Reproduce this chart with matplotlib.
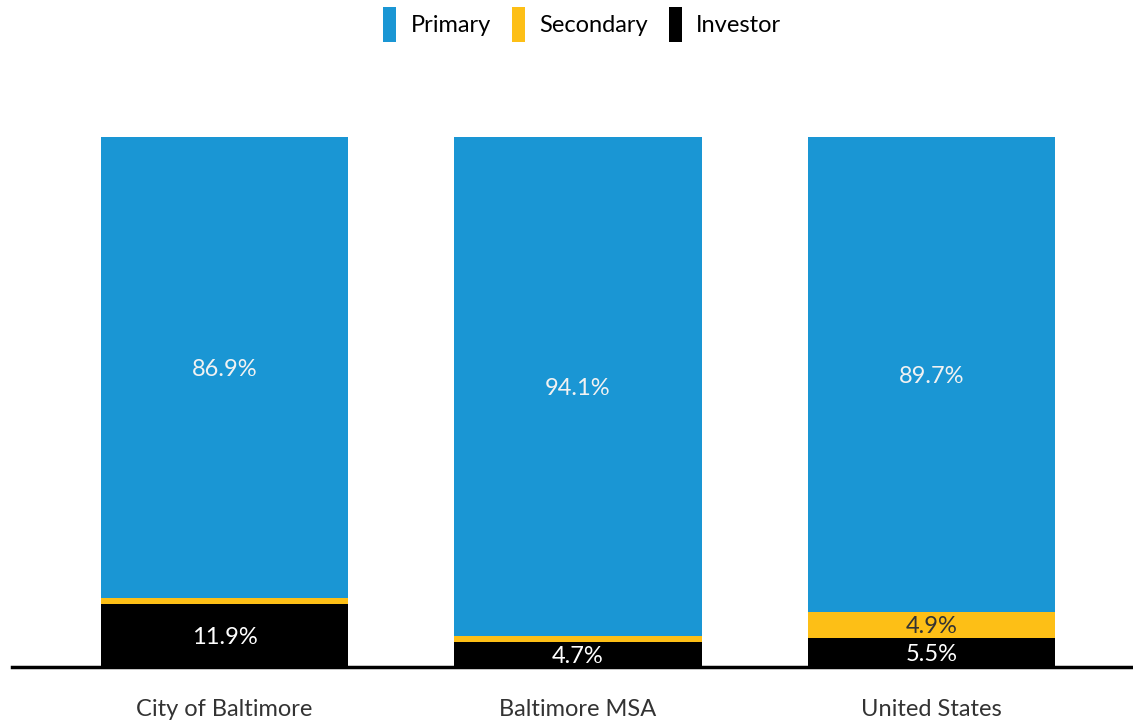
import numpy as np
import matplotlib
matplotlib.use("Agg")
import matplotlib.pyplot as plt

plt.rcParams["font.family"] = ["Lato", "DejaVu Sans"]

regions = ["City of Baltimore", "Baltimore MSA", "United States"]
investor = [11.9, 4.7, 5.5]
secondary = [1.2, 1.2, 4.9]
primary = [86.9, 94.1, 89.7]
show_secondary = [False, False, True]

BLUE, YELLOW, BLACK = "#1a96d4", "#fdbf16", "#000000"

fig = plt.figure(figsize=(11.33, 7.22), dpi=100)
ax = fig.add_axes([0.0106, 0.0762, 0.9894, 0.734])

x = np.arange(len(regions))
w = 0.7
inv = np.array(investor); sec = np.array(secondary); pri = np.array(primary)
b1 = ax.bar(x, inv, w, color=BLACK, label="Investor")
b2 = ax.bar(x, sec, w, bottom=inv, color=YELLOW, label="Secondary")
b3 = ax.bar(x, pri, w, bottom=inv + sec, color=BLUE, label="Primary")

fs = 17
for i in range(len(regions)):
    ax.text(x[i], inv[i] / 2, f"{investor[i]}%", ha="center", va="center_baseline",
            color="white", fontsize=fs)
    if show_secondary[i]:
        ax.text(x[i], inv[i] + sec[i] / 2, f"{secondary[i]}%", ha="center",
                va="center_baseline", color="#333333", fontsize=fs)
    ax.text(x[i], inv[i] + sec[i] + pri[i] / 2, f"{primary[i]}%", ha="center",
            va="center_baseline", color="#f2f2f2", fontsize=fs)

ax.set_xlim(-0.601, 2.57)
ax.set_ylim(0, 100)
ax.set_xticks(x)
ax.set_xticklabels(regions, fontsize=fs, color="#333333")
ax.tick_params(axis="x", length=0, pad=23)
ax.set_yticks([])
for s in ["top", "right", "left"]:
    ax.spines[s].set_visible(False)
ax.spines["bottom"].set_linewidth(2.5)
ax.spines["bottom"].set_color("black")

fig.legend([b3, b2, b1], ["Primary", "Secondary", "Investor"], loc="upper center",
           bbox_to_anchor=(0.514, 1.02), ncol=3, frameon=False, fontsize=fs,
           handlelength=0.55, handleheight=1.9, handletextpad=0.6, columnspacing=0.9)

fig.savefig("out.png")
